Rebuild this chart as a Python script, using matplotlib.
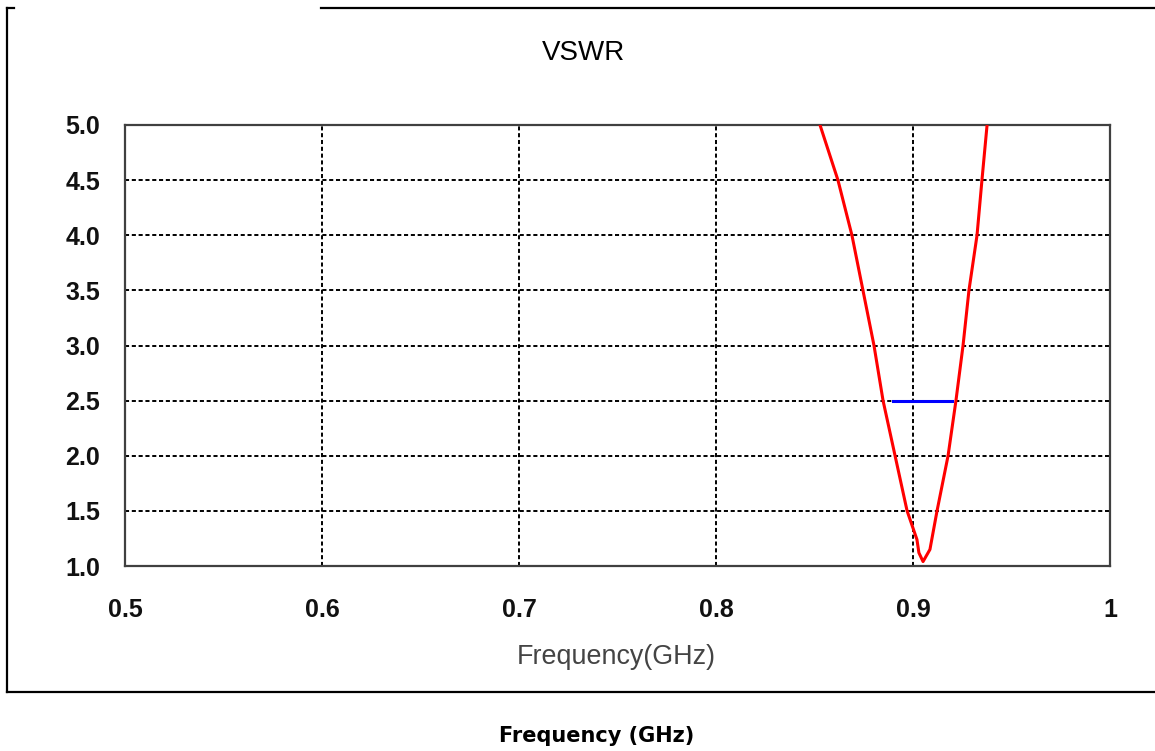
import numpy as np
import matplotlib.pyplot as plt
from matplotlib.lines import Line2D

# VSWR curve (frequency in GHz, VSWR)
freq_ghz = [0.8528, 0.8619, 0.8690, 0.8746, 0.8802, 0.8848, 0.8909, 0.8970,
            0.9020, 0.9030, 0.9051, 0.9086, 0.9122, 0.9178, 0.9218, 0.9254,
            0.9284, 0.9325, 0.9350, 0.9376]
vswr = [5.0, 4.5, 4.0, 3.5, 3.0, 2.5, 2.0, 1.5,
        1.24, 1.12, 1.04, 1.15, 1.5, 2.0, 2.5, 3.0,
        3.5, 4.0, 4.5, 5.0]

# bandwidth marker at VSWR = 2.5
band_freq = [0.8898, 0.9198]
band_vswr = [2.5, 2.5]

x_ticks = [0.5, 0.6, 0.7, 0.8, 0.9, 1.0]
x_labels = ["0.5", "0.6", "0.7", "0.8", "0.9", "1"]
y_ticks = [1.0, 1.5, 2.0, 2.5, 3.0, 3.5, 4.0, 4.5, 5.0]

W, H = 1155, 751
fig = plt.figure(figsize=(W / 100, H / 100), dpi=100)
plt.rcParams['font.family'] = ['Liberation Sans', 'DejaVu Sans']

ax = fig.add_axes([125 / W, 1 - 566 / H, 985 / W, 441 / H])
ax.plot(freq_ghz, vswr, color="#ff0000", lw=2.2, zorder=3)
ax.plot(band_freq, band_vswr, color="#0000ff", lw=2.2, zorder=3)

ax.set_xlim(0.5, 1.0)
ax.set_ylim(1.0, 5.0)
ax.set_xticks(x_ticks)
ax.set_xticklabels(x_labels)
ax.set_yticks(y_ticks)
ax.set_yticklabels([f"{v:.1f}" for v in y_ticks])
ax.tick_params(length=0, labelsize=18)
ax.tick_params(axis="y", pad=18)
ax.tick_params(axis="x", pad=23)
for lab in ax.get_xticklabels() + ax.get_yticklabels():
    lab.set_fontweight("bold")
    lab.set_color("#111111")

ax.grid(True, color="black", lw=1.4, linestyle=(0, (2.1, 1.4)))
for sp in ax.spines.values():
    sp.set_color("#404040")
    sp.set_linewidth(1.6)

# titles and labels placed like the original figure
fig.text(583 / W, 1 - 53 / H, "VSWR", ha="center", va="center", fontsize=20)
fig.text(616 / W, 1 - 657 / H, "Frequency(GHz)", ha="center", va="center",
         fontsize=19.4, color="#444444")
fig.text(597 / W, 1 - 736 / H, "Frequency (GHz)", ha="center", va="center",
         fontsize=15, fontweight="bold", family=["DejaVu Sans"])

# outer frame with the gap on the top-left edge
frame_kw = dict(color="black", lw=1.6, transform=fig.transFigure)
fig.add_artist(Line2D([7 / W, 7 / W], [1 - 8 / H, 1 - 692 / H], **frame_kw))
fig.add_artist(Line2D([7 / W, 1.0], [1 - 692 / H, 1 - 692 / H], **frame_kw))
fig.add_artist(Line2D([321 / W, 1.0], [1 - 8 / H, 1 - 8 / H], **frame_kw))
fig.add_artist(Line2D([7 / W, 14 / W], [1 - 8 / H, 1 - 8 / H], **frame_kw))

fig.savefig("out.png", dpi=100)
